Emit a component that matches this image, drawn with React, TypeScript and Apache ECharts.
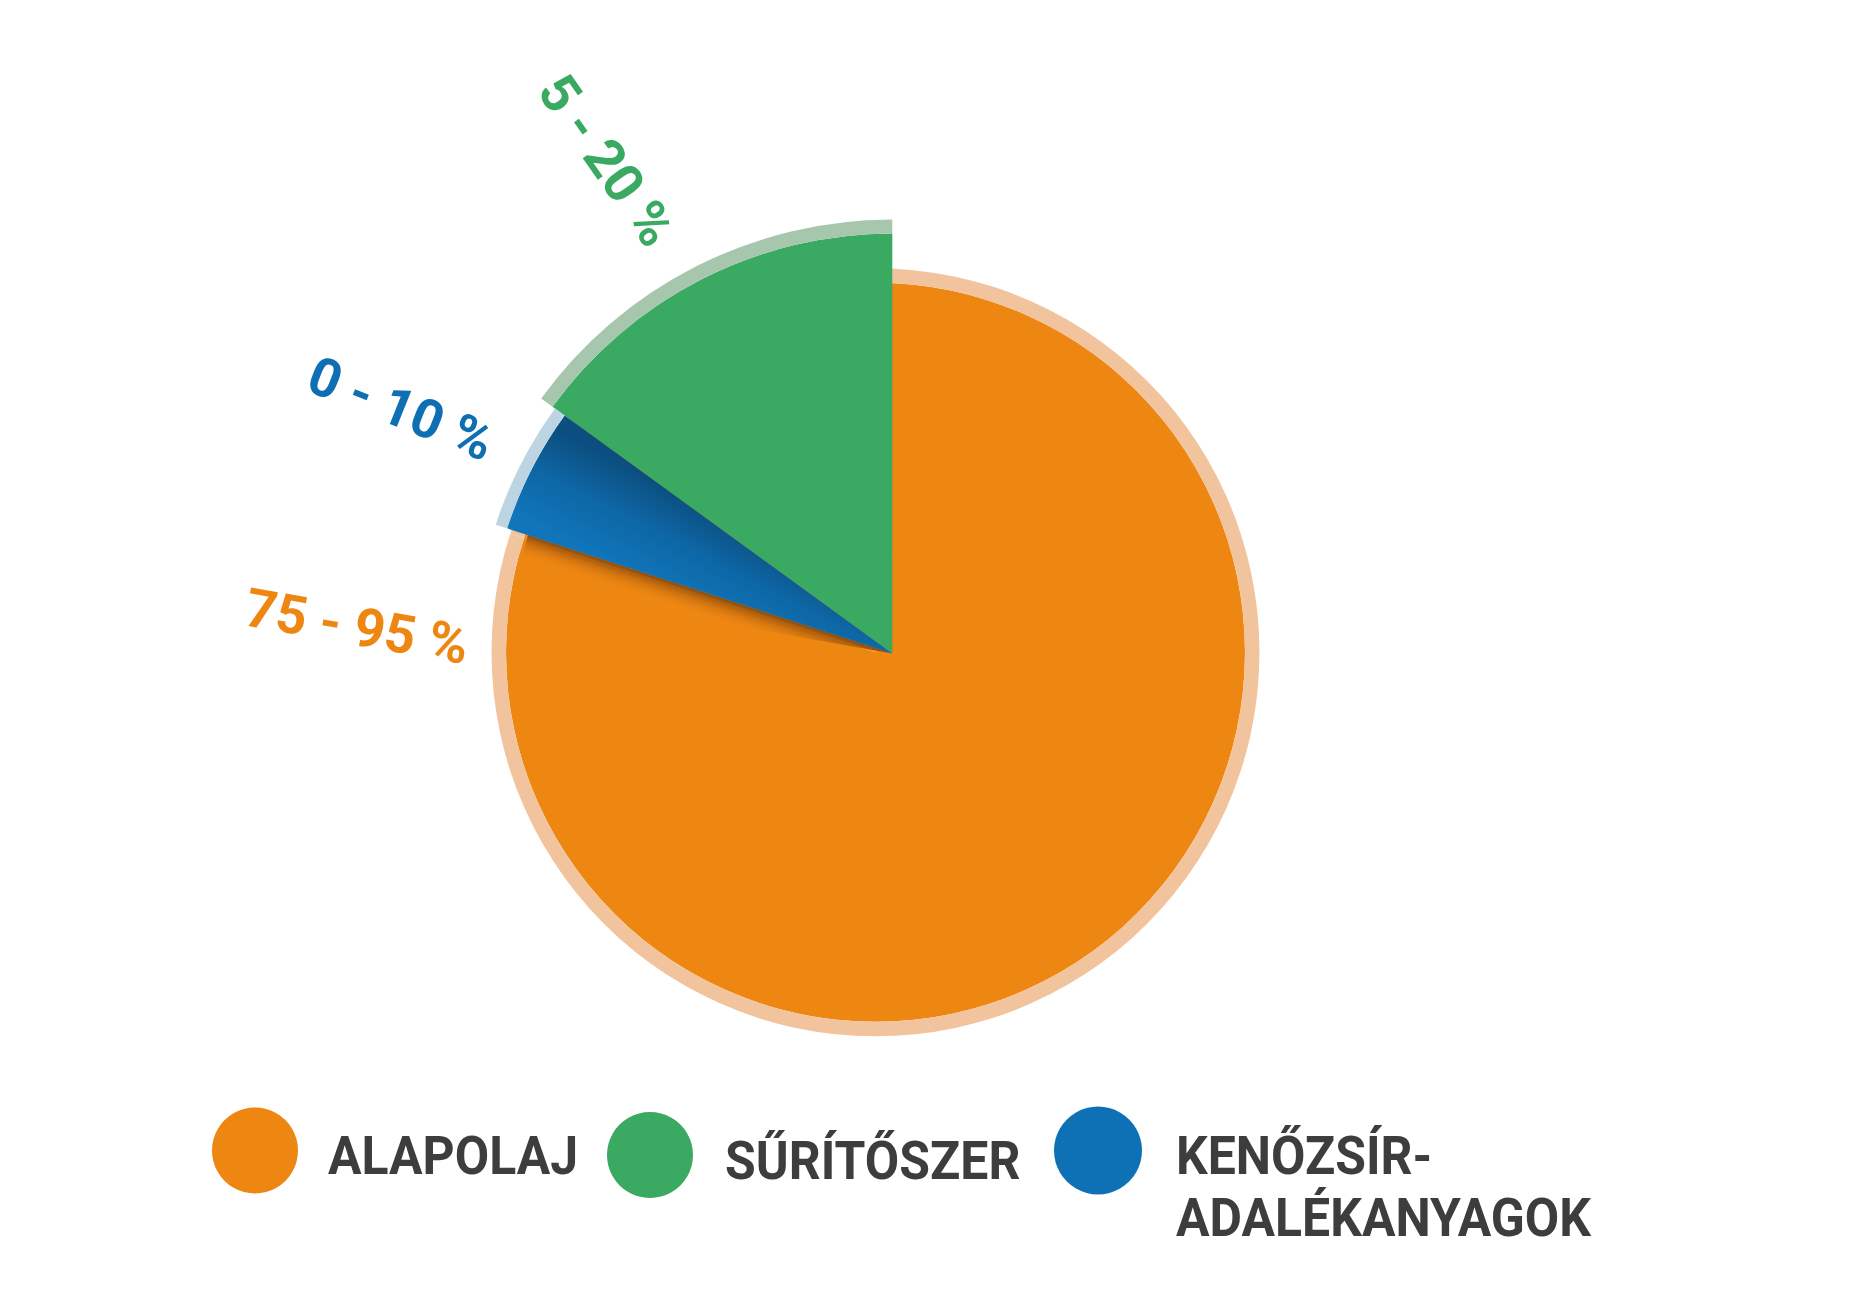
import React, { useEffect, useRef } from "react";
import * as echarts from "echarts";

// ---- data ----
const categories = ["ALAPOLAJ", "SŰRÍTŐSZER", "KENŐZSÍR-\nADALÉKANYAGOK"];
const shareValues = [80, 15, 5]; // drawn share of each component (%)
const rangeLabels = ["75 - 95 %", "5 - 20 %", "0 - 10 %"];
// order in which the slices follow each other counter-clockwise from 12 o'clock
const sliceOrder = [1, 2, 0];

// ---- styles ----
const COLORS = ["#ee8712", "#3aa962", "#0f71b5"];
const RING_COLORS = ["#f2c49e", "#a7c6ae", "#bdd5e2"];
const LABEL_COLORS = ["#ee8712", "#3aa962", "#0f6fb3"];
const TEXT_COLOR = "#3d3d3f";
const W = 1857;
const H = 1308;
const BASE_CENTER = [875.5, 652.3]; // orange disc
const APEX = [892.3, 653.5]; // exploded slices
const RADII = [369.5, 420, 405];
const RING_W = [14.5, 14, 12];
const LABEL_POS = [
  { angle: 177.1, dist: 536, rot: 10.1 },
  { angle: 120.06, dist: 570, rot: 55 },
  { angle: 153.5, dist: 549, rot: 21.8 },
];
const LEGEND_POS = [
  { cx: 255, cy: 1150.5, r: 43, tx: 328, ty: 1156 },
  { cx: 650, cy: 1155, r: 43, tx: 725, ty: 1161 },
  { cx: 1098, cy: 1150.5, r: 44, tx: 1176, ty: 1125 },
];

const TRANSPARENT = "rgba(0,0,0,0)";
const FONT = "Roboto, 'Noto Sans', sans-serif";

function pieData(colorFor: (i: number) => any) {
  return sliceOrder.map((i) => ({
    name: categories[i],
    value: shareValues[i],
    itemStyle: { color: colorFor(i) },
  }));
}

function pieSeries(
  name: string,
  center: number[],
  radius: number[],
  colorFor: (i: number) => any,
  z: number
) {
  return {
    type: "pie",
    name,
    center,
    radius,
    startAngle: 90,
    clockwise: false,
    z,
    silent: true,
    label: { show: false },
    labelLine: { show: false },
    emphasis: { disabled: true },
    itemStyle: { borderWidth: 0 },
    data: pieData(colorFor),
  };
}

export default function App() {
  const ref = useRef<HTMLDivElement>(null);
  useEffect(() => {
    document.body.style.margin = "0";
    document.body.style.overflow = "hidden";
    if (!ref.current) return;
    const chart = echarts.init(ref.current, undefined, { renderer: "svg" });

    const total = shareValues.reduce((a, b) => a + b, 0);
    // angle range (math degrees, ccw) of each category
    const ranges: Record<number, [number, number]> = {};
    let acc = 90;
    sliceOrder.forEach((i) => {
      const span = (shareValues[i] / total) * 360;
      ranges[i] = [acc, acc + span];
      acc += span;
    });
    const rad = (d: number) => (d * Math.PI) / 180;
    const pt = (c: number[], r: number, deg: number) => [
      c[0] + r * Math.cos(rad(deg)),
      c[1] - r * Math.sin(rad(deg)),
    ];

    // blue gradient across the slice
    const bU = pt(APEX, 300, ranges[2][0]);
    const bL = pt(APEX, 300, ranges[2][1]);
    const blueGrad = new echarts.graphic.LinearGradient(
      bU[0], bU[1], bL[0], bL[1],
      [
        { offset: 0, color: "#0b4e7f" },
        { offset: 0.5, color: "#0e67a6" },
        { offset: 1, color: "#1075ba" },
      ],
      true
    );

    // shadow cast by the blue slice onto the orange disc
    const edge = ranges[2][1];
    const e0 = pt(APEX, 250, edge);
    // unit normal pointing towards larger angles (into the orange part)
    const n = [-Math.sin(rad(edge)), -Math.cos(rad(edge))];
    const sh1 = [e0[0] + n[0] * 24, e0[1] + n[1] * 24];
    const shadowGrad = new echarts.graphic.LinearGradient(
      e0[0], e0[1], sh1[0], sh1[1],
      [
        { offset: 0, color: "rgba(115,58,6,0.8)" },
        { offset: 0.4, color: "rgba(170,90,12,0.45)" },
        { offset: 1, color: "rgba(238,135,18,0)" },
      ],
      true
    );

    const series = [
      // orange base disc and its pale ring
      pieSeries("base", BASE_CENTER, [0, RADII[0]], () => COLORS[0], 1),
      pieSeries("baseRing", BASE_CENTER, [RADII[0], RADII[0] + RING_W[0]], () => RING_COLORS[0], 1),
      // exploded green slice
      pieSeries("green", APEX, [0, RADII[1]], (i) => (i === 1 ? COLORS[1] : TRANSPARENT), 5),
      pieSeries("greenRing", APEX, [RADII[1], RADII[1] + RING_W[1]], (i) => (i === 1 ? RING_COLORS[1] : TRANSPARENT), 5),
      // exploded blue slice
      pieSeries("blue", APEX, [0, RADII[2]], (i) => (i === 2 ? blueGrad : TRANSPARENT), 5),
      pieSeries("blueRing", APEX, [RADII[2], RADII[2] + RING_W[2]], (i) => (i === 2 ? RING_COLORS[2] : TRANSPARENT), 5),
    ];

    const graphics: any[] = [];
    graphics.push({
      type: "sector",
      z: 3,
      silent: true,
      shape: {
        cx: APEX[0],
        cy: APEX[1],
        r0: 0,
        r: 383,
        startAngle: -rad(edge + 8),
        endAngle: -rad(edge),
        clockwise: true,
      },
      style: { fill: shadowGrad },
    });

    // rotated range labels
    categories.forEach((_, i) => {
      const p = LABEL_POS[i];
      const xy = pt(APEX, p.dist, p.angle);
      graphics.push({
        type: "text",
        z: 10,
        x: xy[0],
        y: xy[1],
        rotation: -rad(p.rot),
        scaleX: 1.0,
        style: {
          text: rangeLabels[i],
          fill: LABEL_COLORS[i],
          fontSize: 54,
          fontWeight: "bold",
          fontFamily: FONT,
          align: "center",
          verticalAlign: "middle",
        },
      });
    });

    // legend
    categories.forEach((name, i) => {
      const L = LEGEND_POS[i];
      graphics.push({
        type: "circle",
        z: 10,
        shape: { cx: L.cx, cy: L.cy, r: L.r },
        style: { fill: COLORS[i] },
      });
      const multi = name.indexOf("\n") >= 0;
      graphics.push({
        type: "text",
        z: 10,
        x: L.tx,
        y: L.ty,
        scaleX: 0.925,
        style: {
          text: name,
          fill: TEXT_COLOR,
          fontSize: 54,
          fontWeight: "bold",
          fontFamily: FONT,
          align: "left",
          verticalAlign: multi ? "top" : "middle",
          lineHeight: 62,
        },
      });
    });

    chart.setOption({
      animation: false,
      backgroundColor: "#ffffff",
      series,
      graphic: { elements: graphics },
    });
    return () => chart.dispose();
  }, []);
  return <div ref={ref} style={{ width: W, height: H }} />;
}
